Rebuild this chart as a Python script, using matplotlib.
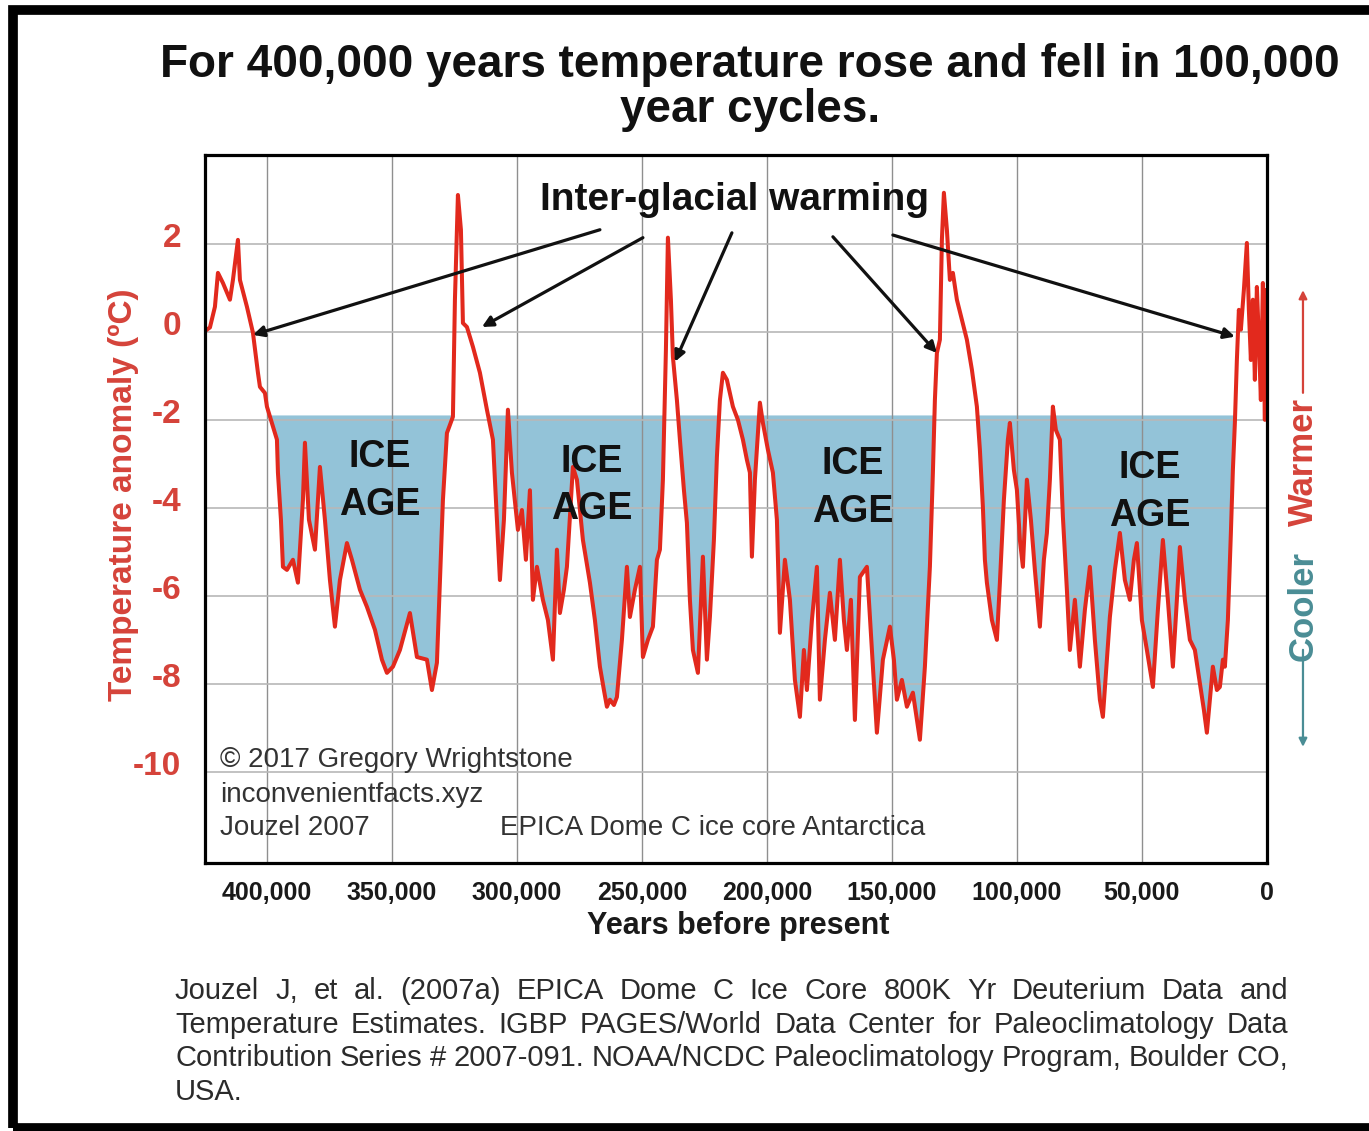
import numpy as np
import matplotlib.pyplot as plt
from matplotlib.patches import Rectangle
from matplotlib.transforms import ScaledTranslation

plt.rcParams['font.family'] = ['Liberation Sans', 'DejaVu Sans']

# EPICA Dome C temperature anomaly (age in kyr BP, deg C)
age_kyr = [424.0, 422.8, 420.8, 419.6, 417.6, 414.8, 413.6, 411.6, 410.8, 408.0,
           405.6, 403.6, 402.8, 400.8, 400.0, 396.0, 395.6, 394.4, 393.6, 392.0,
           389.6, 387.6, 385.6, 384.8, 383.2, 380.8, 378.8, 376.8, 374.8, 372.8,
           370.8, 368.0, 366.0, 362.8, 360.0, 356.8, 354.0, 352.0, 349.6, 346.8,
           342.8, 340.0, 336.0, 334.0, 332.0, 329.6, 328.0, 325.6, 324.8, 323.6,
           322.4, 321.6, 320.0, 317.6, 314.8, 312.0, 309.6, 308.4, 306.8, 305.2,
           303.6, 302.0, 299.6, 298.0, 296.4, 294.8, 293.6, 292.0, 289.6, 287.6,
           285.6, 284.0, 282.8, 281.2, 280.0, 277.6, 276.0, 273.6, 270.8, 268.8,
           266.8, 265.2, 264.0, 262.8, 261.2, 260.0, 258.0, 256.0, 254.8, 252.8,
           250.8, 249.6, 247.6, 245.6, 244.0, 242.8, 241.6, 240.4, 239.6, 238.4,
           237.6, 236.0, 234.8, 233.2, 232.0, 230.8, 229.6, 227.6, 225.6, 224.0,
           222.8, 221.2, 220.0, 218.8, 217.6, 216.0, 213.6, 211.6, 209.6, 208.0,
           206.8, 206.0, 204.8, 202.8, 201.6, 199.6, 197.6, 196.0, 194.8, 192.8,
           190.8, 188.8, 186.8, 185.2, 184.0, 182.0, 180.0, 178.8, 176.8, 174.8,
           172.8, 170.8, 169.2, 168.0, 166.4, 164.8, 162.8, 160.0, 158.0, 156.0,
           153.6, 150.8, 149.2, 148.0, 146.0, 144.0, 141.6, 140.0, 138.8, 136.8,
           134.8, 133.6, 132.8, 132.0, 130.8, 130.0, 129.2, 128.0, 126.8, 125.6,
           124.0, 122.0, 120.0, 118.0, 116.0, 114.8, 113.6, 112.8, 112.0, 110.0,
           108.0, 106.8, 105.2, 103.6, 102.8, 101.2, 100.0, 98.8, 97.6, 96.0,
           94.4, 92.8, 90.8, 89.2, 88.0, 86.8, 85.6, 84.4, 82.8, 81.6,
           80.0, 78.8, 76.8, 74.8, 72.8, 70.8, 68.8, 66.8, 65.6, 64.0,
           62.8, 60.8, 58.8, 56.8, 54.8, 53.2, 52.0, 50.0, 48.0, 45.6,
           43.6, 41.6, 39.6, 37.6, 36.0, 34.8, 32.8, 30.8, 28.8, 26.8,
           25.2, 24.0, 22.8, 21.6, 20.0, 18.8, 17.6, 16.8, 15.6, 14.4,
           13.6, 12.8, 12.0, 11.2, 10.4, 9.2, 8.0, 7.2, 6.4, 5.6,
           4.8, 4.0, 3.2, 2.4, 1.6, 0.8, 0.4]
temp_anomaly = [0.05, 0.10, 0.57, 1.34, 1.11, 0.73, 1.18, 2.09, 1.18, 0.57,
                -0.02, -0.93, -1.25, -1.39, -1.70, -2.45, -3.20, -4.27, -5.34, -5.41,
                -5.18, -5.70, -3.82, -2.52, -4.27, -4.95, -3.07, -4.27, -5.64, -6.70,
                -5.64, -4.80, -5.18, -5.86, -6.25, -6.77, -7.45, -7.75, -7.61, -7.23,
                -6.39, -7.39, -7.45, -8.14, -7.52, -3.82, -2.30, -1.93, 0.73, 3.11,
                2.32, 0.20, 0.11, -0.34, -0.93, -1.77, -2.45, -3.80, -5.64, -4.27,
                -1.77, -3.20, -4.50, -4.05, -5.18, -3.60, -6.09, -5.34, -6.09, -6.55,
                -7.45, -4.95, -6.39, -5.86, -5.34, -3.07, -3.36, -4.73, -5.70, -6.55,
                -7.61, -8.14, -8.52, -8.36, -8.48, -8.30, -7.00, -5.34, -6.48, -5.86,
                -5.34, -7.39, -7.00, -6.70, -5.18, -4.95, -3.36, -0.41, 2.14, 0.73,
                -0.57, -1.55, -2.45, -3.59, -4.34, -6.09, -7.23, -7.75, -5.11, -7.45,
                -6.48, -4.73, -2.84, -1.55, -0.93, -1.09, -1.70, -2.00, -2.45, -2.91,
                -3.20, -5.11, -3.36, -1.61, -2.07, -2.68, -3.20, -4.27, -6.84, -5.18,
                -6.09, -7.91, -8.75, -7.23, -8.14, -6.55, -5.34, -8.36, -7.00, -5.93,
                -7.00, -5.18, -6.55, -7.23, -6.09, -8.82, -5.57, -5.34, -7.23, -9.11,
                -7.45, -6.70, -7.45, -8.36, -7.91, -8.52, -8.20, -8.82, -9.27, -7.61,
                -5.34, -3.20, -1.55, -0.48, -0.18, 2.09, 3.16, 2.32, 1.18, 1.34,
                0.73, 0.27, -0.18, -0.86, -1.70, -2.68, -3.98, -5.18, -5.70, -6.55,
                -7.00, -5.70, -3.82, -2.45, -2.07, -3.14, -3.59, -4.73, -5.34, -3.36,
                -4.27, -5.41, -6.70, -5.18, -4.57, -3.36, -1.70, -2.23, -2.45, -4.20,
                -5.86, -7.23, -6.09, -7.61, -6.32, -5.34, -7.00, -8.36, -8.75, -7.45,
                -6.48, -5.41, -4.57, -5.64, -6.09, -5.18, -4.80, -6.55, -7.23, -8.07,
                -6.32, -4.73, -6.09, -7.61, -6.09, -4.89, -6.09, -7.00, -7.23, -7.98,
                -8.59, -9.11, -8.36, -7.61, -8.14, -8.07, -7.45, -7.61, -6.55, -4.57,
                -3.14, -2.07, -0.64, 0.50, 0.05, 0.95, 2.02, 0.50, -0.64, 0.73,
                -1.09, 1.02, -0.18, -1.55, 1.11, -2.00, 0.95]

x_ticks = [400000, 350000, 300000, 250000, 200000, 150000, 100000, 50000, 0]
x_tick_labels = ["400,000", "350,000", "300,000", "250,000", "200,000",
                 "150,000", "100,000", "50,000", "0"]
y_ticks = [2, 0, -2, -4, -6, -8, -10]
y_tick_labels = ["2", "0", "-2", "-4", "-6", "-8", "-10"]

citation = ["Jouzel J, et al. (2007a) EPICA Dome C Ice Core 800K Yr Deuterium Data and",
            "Temperature Estimates. IGBP PAGES/World Data Center for Paleoclimatology Data",
            "Contribution Series # 2007-091. NOAA/NCDC Paleoclimatology Program, Boulder CO,",
            "USA."]

RED = '#e2291d'
LABEL_RED = '#d5433a'
BLUE = '#93c3d8'
TEAL = '#4a8d95'
ICE_LEVEL = -1.9

years = np.array(age_kyr) * 1000
temp = np.array(temp_anomaly)

fig = plt.figure(figsize=(13.69, 11.31), dpi=100)
ax = fig.add_axes([0.1497, 0.2370, 0.7757, 0.6260])

# blue "ice age" area between the curve and the -2 level
ax.fill_between(years, temp, ICE_LEVEL, where=temp < ICE_LEVEL, interpolate=True,
                color=BLUE, lw=0, zorder=1)
ax.plot(years, temp, color=RED, lw=2.9, zorder=3)

ax.set_xlim(424800, 0)
ax.set_ylim(-12.07, 4.02)
ax.set_xticks(x_ticks, x_tick_labels)
ax.set_yticks(y_ticks, y_tick_labels)
ax.tick_params(length=0)
ax.tick_params(axis='x', pad=13, labelsize=18, labelcolor='#1a1a1a')
ax.tick_params(axis='y', pad=17, labelsize=24, labelcolor=LABEL_RED)
for lab in ax.get_xticklabels() + ax.get_yticklabels():
    lab.set_fontweight('bold')
# the y labels sit a little above their grid lines in the original
shift = ScaledTranslation(0, 0.09, fig.dpi_scale_trans)
for lab in ax.get_yticklabels():
    lab.set_transform(lab.get_transform() + shift)

ax.set_axisbelow(False)
ax.xaxis.grid(True, color='#8f8f8f', lw=1.0)
ax.yaxis.grid(True, color='#b8b8b8', lw=1.2)
for sp in ax.spines.values():
    sp.set_linewidth(2.3)
    sp.set_color('black')
    sp.set_zorder(6)

ax.set_xlabel("Years before present", fontsize=22, fontweight='bold', color='#1a1a1a')
ax.xaxis.set_label_coords(0.502, -0.068)
ax.set_ylabel("Temperature anomaly (ºC)", fontsize=24, fontweight='bold', color=LABEL_RED)
ax.yaxis.set_label_coords(-0.062, 0.52)

# annotations
ax.text(212800, 3.0, "Inter-glacial warming", ha='center', va='center',
        fontsize=28, fontweight='bold', color='#111111', zorder=5)
arrows = [((266800, 2.32), (405600, -0.07)),
          ((249600, 2.14), (314000, 0.11)),
          ((214000, 2.25), (236800, -0.68)),
          ((173600, 2.16), (132000, -0.48)),
          ((149600, 2.20), (12800, -0.11))]
for tail, tip in arrows:
    ax.annotate('', xy=tip, xytext=tail,
                arrowprops=dict(arrowstyle='-|>', color='#111111', lw=2.3,
                                mutation_scale=16, shrinkA=0, shrinkB=0),
                zorder=5)

for xpos, ypos in [(354800, -3.39), (270000, -3.50), (165600, -3.55), (46800, -3.64)]:
    ax.text(xpos, ypos, "ICE\nAGE", ha='center', va='center', fontsize=27,
            fontweight='bold', color='#111111', linespacing=1.4, zorder=5)

ax.text(0.014, 0.145, "© 2017 Gregory Wrightstone", transform=ax.transAxes,
        fontsize=20, color='#333333', va='center', zorder=5)
ax.text(0.014, 0.096, "inconvenientfacts.xyz", transform=ax.transAxes,
        fontsize=20, color='#333333', va='center', zorder=5)
ax.text(0.014, 0.049, "Jouzel 2007", transform=ax.transAxes,
        fontsize=20, color='#333333', va='center', zorder=5)
ax.text(0.278, 0.049, "EPICA Dome C ice core Antarctica", transform=ax.transAxes,
        fontsize=20, color='#333333', va='center', zorder=5)

# Cooler / Warmer indicator on the right
ax.text(1.034, 0.566, "Warmer", transform=ax.transAxes, rotation=90, ha='center',
        va='center', fontsize=25, fontweight='bold', color=LABEL_RED)
ax.text(1.034, 0.363, "Cooler", transform=ax.transAxes, rotation=90, ha='center',
        va='center', fontsize=25, fontweight='bold', color=TEAL)
ax.annotate('', xy=(1.034, 0.809), xytext=(1.034, 0.664), xycoords='axes fraction',
            arrowprops=dict(arrowstyle='-|>', color=LABEL_RED, lw=1.6, mutation_scale=12,
                            shrinkA=0, shrinkB=0))
ax.annotate('', xy=(1.034, 0.164), xytext=(1.034, 0.301), xycoords='axes fraction',
            arrowprops=dict(arrowstyle='-|>', color=TEAL, lw=1.6, mutation_scale=12,
                            shrinkA=0, shrinkB=0))

# title
fig.text(0.548, 0.9425, "For 400,000 years temperature rose and fell in 100,000",
         ha='center', va='center', fontsize=33, fontweight='bold', color='#111111')
fig.text(0.548, 0.9027, "year cycles.", ha='center', va='center', fontsize=33,
         fontweight='bold', color='#111111')

# justified citation block under the chart
renderer = fig.canvas.get_renderer()
fig_w = fig.bbox.width
left_px, right_px = 175, 1288
cite_kw = dict(fontsize=21, color='#2b2b2b', va='center')
for i, line in enumerate(citation):
    y = 1 - (991 + i * 33.7) / 1131
    if i == len(citation) - 1:
        fig.text(left_px / fig_w, y, line, **cite_kw)
        continue
    words = line.split(' ')
    parts = [fig.text(0, y, w, **cite_kw) for w in words]
    widths = [p.get_window_extent(renderer).width for p in parts]
    gap = (right_px - left_px - sum(widths)) / (len(words) - 1)
    x = left_px
    for p, w in zip(parts, widths):
        p.set_x(x / fig_w)
        x += w + gap

# thick black frame (open on the right, as in the original image)
fig.patches.append(Rectangle((13 / 1369, 3 / 1131), 1.0, 0.9885, transform=fig.transFigure,
                             fill=False, edgecolor='black', lw=7))

fig.savefig("out.png", dpi=100)
